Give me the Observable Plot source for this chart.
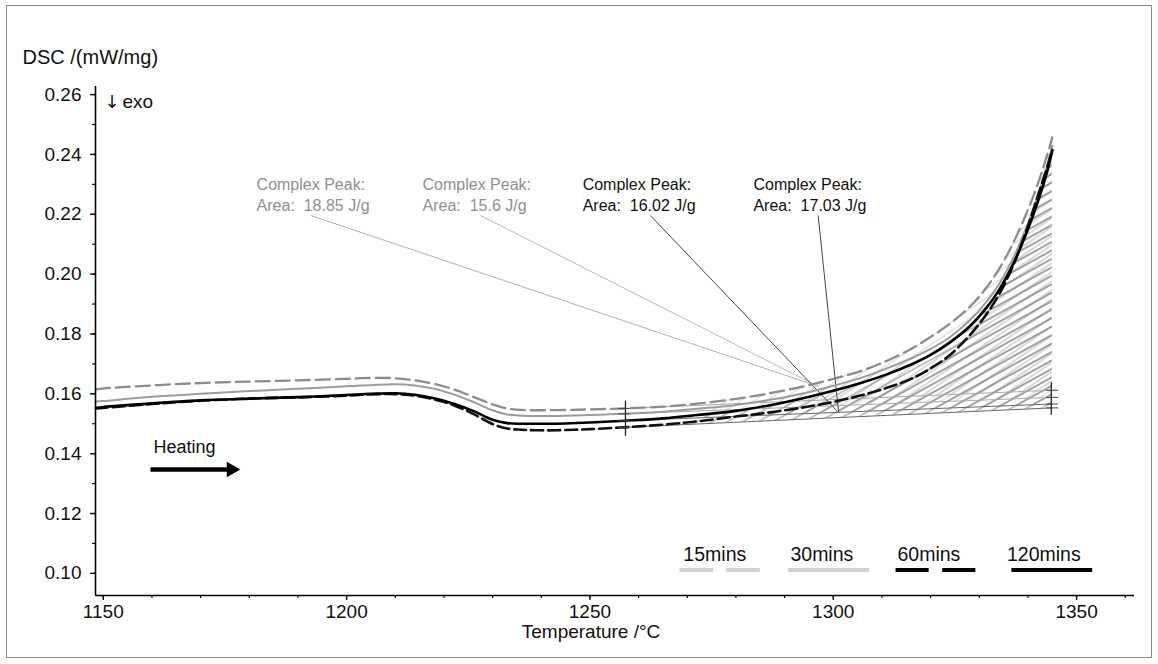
<!DOCTYPE html>
<html><head><meta charset="utf-8">
<script src="https://cdn.jsdelivr.net/npm/d3@7"></script>
<script src="https://cdn.jsdelivr.net/npm/@observablehq/plot@0.6"></script>
<style>
body{margin:0;background:#fff;}
#wrap{position:relative;width:1158px;height:664px;overflow:hidden;background:#fff;}
#border{position:absolute;left:6px;top:5px;width:1146px;height:653px;border:1.5px solid #8a8a8a;box-sizing:border-box;pointer-events:none}
svg text{white-space:pre;}
</style></head><body><div id="wrap"><div id="border"></div></div>
<script>
// ---- data ----
const temps = [1148.5,1150,1160,1170,1180,1190,1200,1205,1210,1214,1218,1222,1226,1230,1233,1236,1240,1245,1250,1257,1265,1272,1280,1287,1294,1300,1306,1311,1316,1320,1324,1328,1331,1334,1337,1340,1342,1344,1345];
const dsc15  = [0.1615,0.1618,0.1628,0.1636,0.1641,0.1645,0.1650,0.1653,0.1652,0.1645,0.1633,0.1615,0.1590,0.1565,0.1551,0.1546,0.1545,0.1546,0.1548,0.1551,0.1557,0.1567,0.1583,0.1602,0.1625,0.1650,0.1678,0.1710,0.1750,0.1790,0.1835,0.1890,0.1945,0.2015,0.2105,0.2215,0.2300,0.2400,0.2457];
const dsc30  = [0.1574,0.1576,0.1590,0.1600,0.1609,0.1617,0.1625,0.1629,0.1632,0.1628,0.1617,0.1598,0.1573,0.1545,0.1531,0.1527,0.1526,0.1527,0.1529,0.1533,0.1540,0.1550,0.1563,0.1580,0.1602,0.1627,0.1655,0.1685,0.1718,0.1750,0.1790,0.1845,0.1898,0.1965,0.2055,0.2170,0.2260,0.2365,0.2430];
const dsc60  = [0.1551,0.1553,0.1566,0.1577,0.1584,0.1588,0.1594,0.1598,0.1599,0.1594,0.1581,0.1562,0.1533,0.1499,0.1484,0.1480,0.1478,0.1479,0.1482,0.1488,0.1497,0.1508,0.1524,0.1538,0.1555,0.1573,0.1596,0.1620,0.1650,0.1685,0.1730,0.1795,0.1855,0.1930,0.2030,0.2160,0.2260,0.2360,0.2415];
const dsc120 = [0.1553,0.1556,0.1568,0.1578,0.1584,0.1589,0.1596,0.1600,0.1602,0.1597,0.1585,0.1567,0.1543,0.1513,0.1502,0.1500,0.1500,0.1501,0.1504,0.1510,0.1518,0.1529,0.1543,0.1562,0.1586,0.1610,0.1638,0.1665,0.1698,0.1730,0.1772,0.1825,0.1878,0.1945,0.2035,0.2150,0.2240,0.2345,0.2413];
const seriesNames = ["15mins","30mins","60mins","120mins"];
const peakAreas = ["18.85","15.6","16.02","17.03"];
const baselineStartT = 1257, baselineEndT = 1345;
const baselineEndValues = [0.1612,0.1588,0.1553,0.1566];
const xTicks = [1150,1200,1250,1300,1350];
const yTicks = [0.10,0.12,0.14,0.16,0.18,0.20,0.22,0.24,0.26];

// ---- build tables ----
const allSeries = [dsc15, dsc30, dsc60, dsc120];
const rows = name => { const i = seriesNames.indexOf(name); return temps.map((t,j)=>({T:t, v:allSeries[i][j], s:name})); };
const baseAt = (name, t) => {
  const i = seriesNames.indexOf(name);
  const v0 = allSeries[i][temps.indexOf(baselineStartT)];
  const v1 = baselineEndValues[i];
  return v0 + (v1 - v0) * (t - baselineStartT) / (baselineEndT - baselineStartT);
};
const peakRows = name => rows(name).filter(d => d.T >= baselineStartT && d.T <= baselineEndT).map(d => ({...d, b: baseAt(name, d.T)}));
const baselines = seriesNames.map((s,i)=>({s, T0: baselineStartT, v0: baseAt(s, baselineStartT), T1: baselineEndT, v1: baselineEndValues[i]}));
const markEnds = baselines.flatMap(b => [{T:b.T0, v:b.v0}, {T:b.T1, v:b.v1}]);

const minorX = d3.range(1150, 1361, 10);
const minorY = d3.range(10, 27).map(k => k/100);

const gray = "#8f8f8f";
const font = "'Liberation Sans', Arial, sans-serif";

// annotation layout (data space)
const annLayout = [
  {x:1181.5, lx:1192.6, tx:1295.3, ty:0.1634, c:gray, lc:"#b0b0b0"},
  {x:1215.6, lx:1227.5, tx:1297.0, ty:0.1624, c:gray, lc:"#b8b8b8"},
  {x:1248.5, lx:1262.4, tx:1300.7, ty:0.1544, c:"#111", lc:"#444"},
  {x:1283.6, lx:1296.9, tx:1301.1, ty:0.1538, c:"#111", lc:"#444"}
];
const anns = annLayout.map((a,i)=>({...a, text:`Complex Peak:\nArea:  ${peakAreas[i]} J/g`}));

const legendY = 0.1011, legendTextY = 0.1062;
const legendSegs = [
  {x1:1268.4,x2:1275.3,c:"#cfcfcf"},{x1:1278.0,x2:1284.9,c:"#cfcfcf"},
  {x1:1290.7,x2:1307.4,c:"#cfcfcf"},
  {x1:1312.8,x2:1319.6,c:"#000"},{x1:1322.4,x2:1329.2,c:"#000"},
  {x1:1336.6,x2:1353.2,c:"#000"}
];
const legendText = seriesNames.map((s,i)=>({s, x:[1269.2,1291.2,1313.2,1335.7][i]}));

const styles = {
  "15mins": {stroke:"#8c8c8c", strokeWidth:2.3, strokeDasharray:"14,6"},
  "30mins": {stroke:"#9c9c9c", strokeWidth:2},
  "60mins": {stroke:"#111", strokeWidth:2.6, strokeDasharray:"12,5"},
  "120mins": {stroke:"#000", strokeWidth:2.6}
};

const svg = Plot.plot({
  width: 1158, height: 664,
  marginLeft: 95, marginRight: 24, marginTop: 86, marginBottom: 69,
  style: {fontFamily: font, fontSize: "18px", color: "#111", background: "transparent"},
  x: {domain: [1148.4, 1361.9]},
  y: {domain: [0.0926, 0.2627]},
  marks: [
    // hatched peak areas
    ...["15mins","30mins"].map(s => Plot.areaY(peakRows(s), {x:"T", y1:"b", y2:"v", fill:"url(#hatchLight)", curve:"catmull-rom"})),
    ...["60mins","120mins"].map(s => Plot.areaY(peakRows(s), {x:"T", y1:"b", y2:"v", fill:"url(#hatchDark)", curve:"catmull-rom"})),
    // baselines
    Plot.link(baselines, {x1:"T0", y1:"v0", x2:"T1", y2:"v1", stroke: d => d.s.startsWith("15")||d.s.startsWith("30") ? "#a8a8a8" : "#666", strokeWidth:1}),
    // leader lines
    Plot.link(anns, {x1:"lx", y1:0.2196, x2:"tx", y2:"ty", stroke: d=>d.lc, strokeWidth:1}),
    // curves
    ...["30mins","15mins","60mins","120mins"].map(s => Plot.line(rows(s), {x:"T", y:"v", curve:"catmull-rom", ...styles[s]})),
    // baseline limit marks
    Plot.ruleX([baselineStartT + 0.3], {y1: d3.min(baselines, b=>b.v0) - 0.003, y2: d3.max(baselines, b=>b.v0) + 0.0025, stroke:"#222", strokeWidth:1.3}),
    Plot.ruleX([baselineEndT - 0.2], {y1: d3.min(baselines, b=>b.v1) - 0.0025, y2: d3.max(baselines, b=>b.v1) + 0.0025, stroke:"#222", strokeWidth:1.3}),
    Plot.ruleY(markEnds, {y:"v", x1: d=>d.T-1.1, x2: d=>d.T+1.3, stroke:"#444", strokeWidth:1}),
    // axes
    Plot.axisX(xTicks, {tickSize:5, tickPadding:4, tickFormat: d=>String(d), label:null, fontSize:19, strokeWidth:1.4}),
    Plot.axisX(minorX, {tickSize:3, tickFormat: ()=>"", label:null, strokeWidth:1.2}),
    Plot.axisY(yTicks, {tickSize:5, tickPadding:9, tickFormat: d3.format(".2f"), label:null, fontSize:19, strokeWidth:1.4}),
    Plot.axisY(minorY, {tickSize:3, tickFormat: ()=>"", label:null, strokeWidth:1.2}),
    Plot.ruleX([1148.4], {stroke:"#000", strokeWidth:1.6}),
    Plot.ruleY([0.0926], {stroke:"#000", strokeWidth:1.6}),
    // axis titles
    Plot.text(["DSC /(mW/mg)"], {frameAnchor:"top-left", dx:-73, dy:-37, textAnchor:"start", fontSize:20, fill:"#111"}),
    Plot.text(["Temperature /°C"], {frameAnchor:"bottom", dx:-24, dy:42, fontSize:19, fill:"#111"}),
    Plot.text(["↓"], {frameAnchor:"top-left", dx:9, dy:9, textAnchor:"start", fontSize:18, fill:"#111", fontFamily:"'DejaVu Sans'"}),
    Plot.text(["exo"], {frameAnchor:"top-left", dx:27, dy:8, textAnchor:"start", fontSize:19, fill:"#111"}),
    // annotations
    Plot.text(anns, {x:"x", y:0.2330, text:"text", textAnchor:"start", lineAnchor:"top", lineHeight:1.3, fontSize:16, fill: d=>d.c}),
    // heating arrow
    Plot.text(["Heating"], {x:1160.3, y:0.1421, textAnchor:"start", fontSize:18, fill:"#111"}),
    Plot.link([0], {x1:1159.7, x2:1175.7, y1:0.1347, y2:0.1347, stroke:"#000", strokeWidth:4.5}),
    Plot.dot([0], {x:1176.3, y:0.1347, symbol:"triangle", rotate:90, r:5.8, fill:"#000", stroke:null}),
    // legend
    Plot.link(legendSegs, {x1:"x1", x2:"x2", y1:legendY, y2:legendY, stroke: d=>d.c, strokeWidth:4}),
    Plot.text(legendText, {x:"x", y:legendTextY, text:"s", textAnchor:"start", fontSize:19.5, fill:"#111"})
  ]
});

const defs = d3.select(svg).insert("defs", ":first-child");
function hatch(id, color, angle, gap, w) {
  const p = defs.append("pattern").attr("id", id).attr("patternUnits", "userSpaceOnUse")
    .attr("width", gap).attr("height", gap).attr("patternTransform", `rotate(${angle})`);
  p.append("line").attr("x1", -1).attr("x2", gap + 1).attr("y1", gap/2).attr("y2", gap/2)
    .attr("stroke", color).attr("stroke-width", w);
}
hatch("hatchLight", "#cfcfcf", -34, 7.5, 1);
hatch("hatchDark", "#8a8a8a", -29, 7.4, 1);

document.getElementById("wrap").appendChild(svg);
svg.style.position = "absolute"; svg.style.left = "0"; svg.style.top = "0";
</script>
</body></html>
